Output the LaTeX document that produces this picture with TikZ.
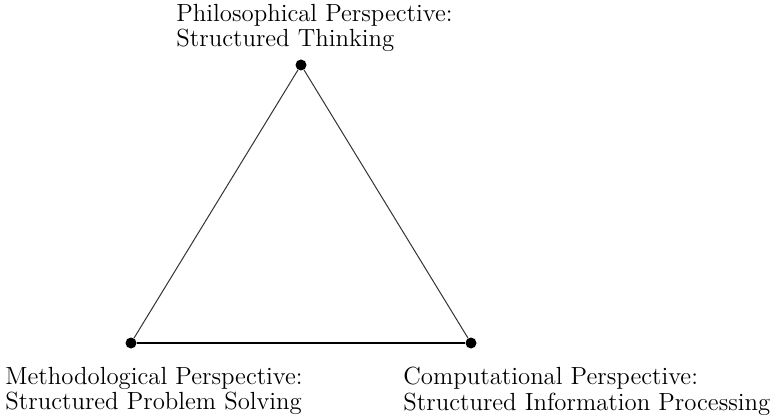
\documentclass[tikz,border=0pt]{standalone}
\begin{document}
\begin{tikzpicture}[x=0.5pt,y=-0.5pt,
  vertex/.style={circle,fill=black,inner sep=0pt,minimum size=5.5pt},
  lbl/.style={anchor=north west,inner sep=0pt,align=left,font=\fontsize{12.4}{12.6}\selectfont},
  side/.style={line width=0.5pt,draw=black!80},
  basel/.style={line width=1.2pt,draw=black}]
\useasboundingbox (0,0) rectangle (777,417);
\node[vertex] (t) at (301,65) {};
\node[vertex] (l) at (131,343) {};
\node[vertex] (r) at (471,343) {};
\draw[side] (t) -- (l);
\draw[side] (t) -- (r);
\draw[basel] (l) -- (r);
\node[lbl] (tl) at (176,4) {Philosophical Perspective:\\Structured Thinking};
\node[lbl] (ll) at (5,367) {Methodological Perspective:\\Structured Problem Solving};
\node[lbl] (rl) at (403,367) {Computational Perspective:\\Structured Information Processing};
\end{tikzpicture}
\end{document}
